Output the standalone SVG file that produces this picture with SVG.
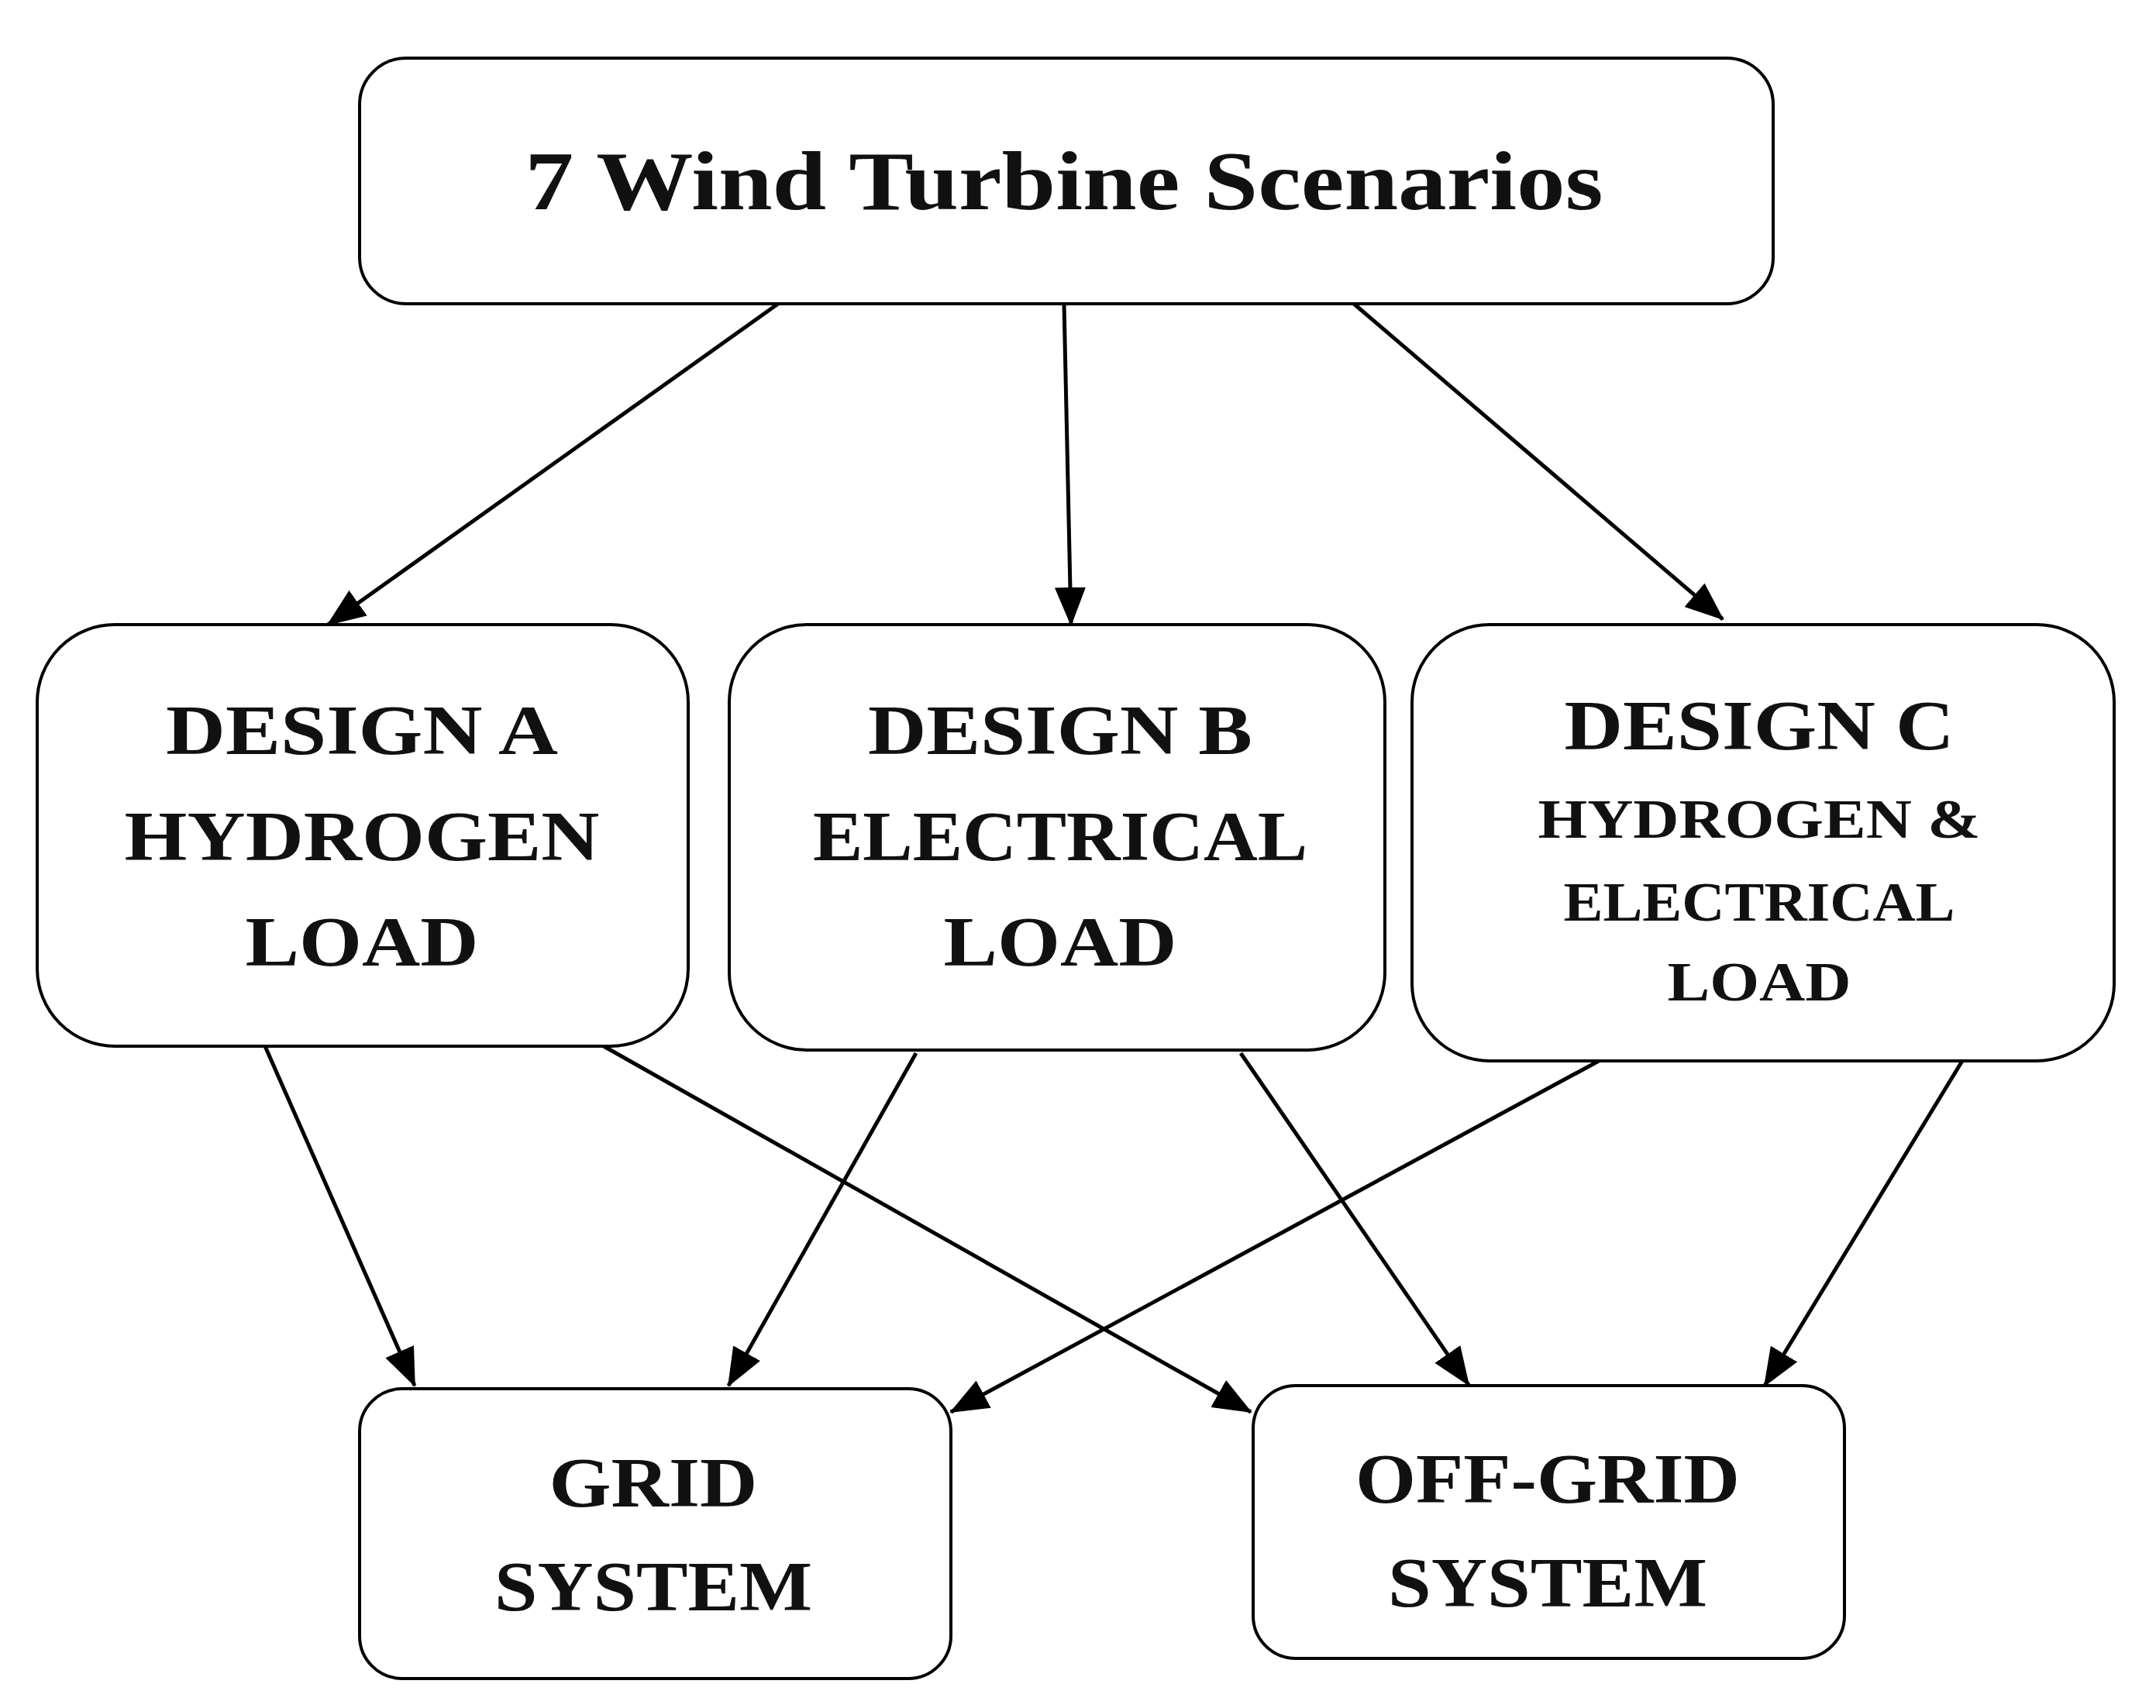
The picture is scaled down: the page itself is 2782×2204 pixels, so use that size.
<svg xmlns="http://www.w3.org/2000/svg" width="2782" height="2204" viewBox="0 0 2782 2204">
<style>
.box{fill:#fff;stroke:#000;stroke-width:4}
.t{font-family:"Liberation Serif","DejaVu Serif",serif;font-weight:bold;text-anchor:middle;fill:#111}
.big{font-size:90px}
.sm{font-size:72px}
.c{stroke:#000;stroke-width:5;fill:none;marker-end:url(#a)}
</style>
<defs><marker id="a" markerUnits="userSpaceOnUse" markerWidth="50" markerHeight="40" refX="48" refY="20" orient="auto"><path d="M0,0 L50,20 L0,40 z" fill="#000"/></marker></defs>
<rect width="2782" height="2204" fill="#fff"/>
<g id="top"><rect class="box" x="464" y="75" width="1824" height="317" rx="60"/><text class="t" x="1373" y="270" font-size="108" textLength="1391" lengthAdjust="spacingAndGlyphs">7 Wind Turbine Scenarios</text></g>
<g id="designA"><rect class="box" x="48" y="806" width="840" height="544" rx="100"/><text class="t big" x="467" y="973" textLength="506" lengthAdjust="spacingAndGlyphs">DESIGN A</text><text class="t big" x="467" y="1110" textLength="613" lengthAdjust="spacingAndGlyphs">HYDROGEN</text><text class="t big" x="467" y="1246" textLength="301" lengthAdjust="spacingAndGlyphs">LOAD</text></g>
<g id="designB"><rect class="box" x="941" y="806" width="846" height="549" rx="100"/><text class="t big" x="1368" y="973" textLength="496" lengthAdjust="spacingAndGlyphs">DESIGN B</text><text class="t big" x="1368" y="1110" textLength="638" lengthAdjust="spacingAndGlyphs">ELECTRICAL</text><text class="t big" x="1368" y="1246" textLength="301" lengthAdjust="spacingAndGlyphs">LOAD</text></g>
<g id="designC"><rect class="box" x="1822" y="806" width="906" height="563" rx="100"/><text class="t big" x="2270" y="967" textLength="503" lengthAdjust="spacingAndGlyphs">DESIGN C</text><text class="t sm" x="2270" y="1081" textLength="571" lengthAdjust="spacingAndGlyphs">HYDROGEN &amp;</text><text class="t sm" x="2270" y="1188" textLength="505" lengthAdjust="spacingAndGlyphs">ELECTRICAL</text><text class="t sm" x="2270" y="1291" textLength="237" lengthAdjust="spacingAndGlyphs">LOAD</text></g>
<g id="grid"><rect class="box" x="464" y="1792" width="763" height="374" rx="55"/><text class="t big" x="843" y="1944" textLength="269" lengthAdjust="spacingAndGlyphs">GRID</text><text class="t big" x="843" y="2078" textLength="410" lengthAdjust="spacingAndGlyphs">SYSTEM</text></g>
<g id="offgrid"><rect class="box" x="1617" y="1788" width="763" height="352" rx="55"/><text class="t big" x="1997" y="1939" textLength="496" lengthAdjust="spacingAndGlyphs">OFF-GRID</text><text class="t big" x="1997" y="2073" textLength="412" lengthAdjust="spacingAndGlyphs">SYSTEM</text></g>
<g id="connectors">
<line class="c" x1="1004" y1="392" x2="423" y2="806"/>
<line class="c" x1="1373" y1="392" x2="1382" y2="806"/>
<line class="c" x1="1747" y1="392" x2="2223" y2="799"/>
<line class="c" x1="342" y1="1350" x2="535" y2="1788"/>
<line class="c" x1="779" y1="1350" x2="1614" y2="1822"/>
<line class="c" x1="1182" y1="1359" x2="940" y2="1788"/>
<line class="c" x1="1601" y1="1359" x2="1895" y2="1787"/>
<line class="c" x1="2063" y1="1369" x2="1227" y2="1822"/>
<line class="c" x1="2532" y1="1369" x2="2277" y2="1788"/>
</g>
</svg>
